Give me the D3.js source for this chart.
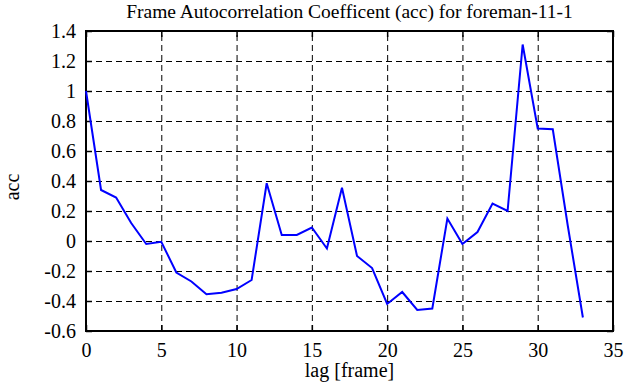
<!DOCTYPE html>
<html lang="en">
<head>
    <meta charset="UTF-8">
    <style>
        body { margin: 0; background: #fff; }
        text { font-family: "Liberation Serif", "Times New Roman", serif; fill: #000; }
        .grid line { stroke: #000; stroke-width: 1; stroke-dasharray: 6,4; }
        .axis line { stroke: #000; stroke-width: 1.5; }
    </style>
    <title>acc</title>
</head>
<body>
<script src="https://d3js.org/d3.v7.min.js" charset="utf-8"></script>
<script>
    var lags = [0, 1, 2, 3, 4, 5, 6, 7, 8, 9, 10, 11, 12, 13, 14, 15, 16,
                17, 18, 19, 20, 21, 22, 23, 24, 25, 26, 27, 28, 29, 30, 31, 32, 33];
    var acc = [1.0, 0.34, 0.29, 0.12, -0.02, -0.005, -0.21, -0.27, -0.355, -0.345,
               -0.32, -0.26, 0.385, 0.04, 0.04, 0.09, -0.05, 0.355, -0.1, -0.18,
               -0.42, -0.34, -0.46, -0.45, 0.15, -0.02, 0.06, 0.25, 0.2, 1.31,
               0.75, 0.745, 0.1, -0.51];
    var xTicks = [0, 5, 10, 15, 20, 25, 30, 35];
    var yTicks = [-0.6, -0.4, -0.2, 0, 0.2, 0.4, 0.6, 0.8, 1, 1.2, 1.4];

    var width = 635, height = 387;
    var plot = {left: 86, right: 613, top: 31, bottom: 331};
    var fontFamily = '"Liberation Serif", "Times New Roman", serif';

    var svg = d3.select('body').append('svg')
        .attr('width', width).attr('height', height);

    var x = d3.scaleLinear().domain([0, 35]).range([plot.left, plot.right]);
    var y = d3.scaleLinear().domain([-0.6, 1.4]).range([plot.bottom, plot.top]);

    function noDomain(g) { g.select('.domain').remove(); }

    // dashed grid, inner values only
    svg.append('g').attr('class', 'grid')
        .attr('transform', 'translate(0,' + plot.bottom + ')')
        .call(d3.axisBottom(x).tickValues(xTicks.slice(1, -1))
            .tickSize(-(plot.bottom - plot.top)).tickFormat(''))
        .call(noDomain);

    svg.append('g').attr('class', 'grid')
        .attr('transform', 'translate(' + plot.left + ',0)')
        .call(d3.axisLeft(y).tickValues(yTicks.slice(1, -1))
            .tickSize(-(plot.right - plot.left)).tickFormat(''))
        .call(noDomain);

    // axes with inward ticks
    var fmt = function (d) { return String(+d.toFixed(1)); };

    svg.append('g').attr('class', 'axis')
        .attr('transform', 'translate(0,' + plot.bottom + ')')
        .call(d3.axisBottom(x).tickValues(xTicks).tickSize(-6).tickPadding(12))
        .call(noDomain);

    svg.append('g').attr('class', 'axis')
        .attr('transform', 'translate(0,' + plot.top + ')')
        .call(d3.axisTop(x).tickValues(xTicks).tickSize(-6).tickFormat(''))
        .call(noDomain);

    svg.append('g').attr('class', 'axis')
        .attr('transform', 'translate(' + plot.left + ',0)')
        .call(d3.axisLeft(y).tickValues(yTicks).tickSize(-6).tickPadding(10).tickFormat(fmt))
        .call(noDomain);

    svg.append('g').attr('class', 'axis')
        .attr('transform', 'translate(' + plot.right + ',0)')
        .call(d3.axisRight(y).tickValues(yTicks).tickSize(-6).tickFormat(''))
        .call(noDomain);

    svg.selectAll('.axis')
        .attr('font-family', fontFamily)
        .attr('font-size', 20);
    svg.selectAll('.axis text').attr('fill', '#000');

    // frame
    svg.append('rect')
        .attr('x', plot.left).attr('y', plot.top)
        .attr('width', plot.right - plot.left)
        .attr('height', plot.bottom - plot.top)
        .attr('fill', 'none').attr('stroke', '#000').attr('stroke-width', 2);

    // the series
    var line = d3.line()
        .x(function (d, i) { return x(lags[i]); })
        .y(function (d) { return y(d); });

    svg.append('path')
        .datum(acc)
        .attr('d', line)
        .attr('fill', 'none')
        .attr('stroke', '#0000ff')
        .attr('stroke-width', 2);

    // labels
    svg.append('text')
        .attr('x', (plot.left + plot.right) / 2).attr('y', 17.5)
        .attr('text-anchor', 'middle').attr('font-size', 19.5)
        .text('Frame Autocorrelation Coefficent (acc) for foreman-11-1');

    svg.append('text')
        .attr('x', (plot.left + plot.right) / 2).attr('y', 377)
        .attr('text-anchor', 'middle').attr('font-size', 20)
        .text('lag [frame]');

    svg.append('text')
        .attr('transform', 'translate(19,187) rotate(-90)')
        .attr('text-anchor', 'middle').attr('font-size', 20)
        .text('acc');
</script>
</body>
</html>
